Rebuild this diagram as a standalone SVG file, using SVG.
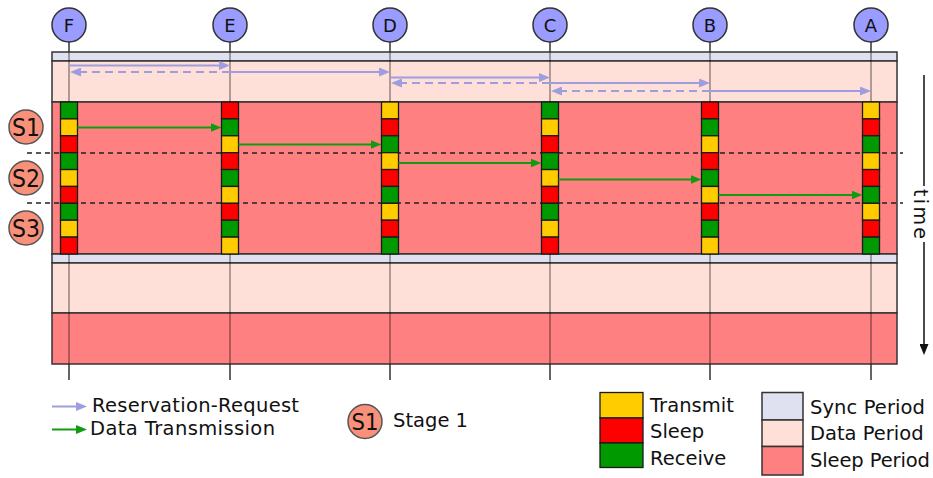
<svg xmlns="http://www.w3.org/2000/svg" width="933" height="478" viewBox="0 0 933 478">
<defs>
<style>
.sync{fill:#dfe0f0;stroke:#333;stroke-width:1.5}
.data{fill:#ffe0d8;stroke:#333;stroke-width:1.5}
.slp{fill:#ff8080;stroke:#333;stroke-width:1.5}
.life{stroke:#000;stroke-opacity:.42;stroke-width:1.5}
.lifeo{stroke:#333;stroke-width:1.5}
.nc{fill:#9b9cff;stroke:#333;stroke-width:1.5}
.sc{fill:#f9917a;stroke:#555;stroke-width:1.5}
.lbl{font-family:"DejaVu Sans",Verdana,sans-serif;fill:#111}
.T{fill:#ffcc00;stroke:#1a1a1a;stroke-width:1.3}
.S{fill:#ff0000;stroke:#1a1a1a;stroke-width:1.3}
.R{fill:#009900;stroke:#1a1a1a;stroke-width:1.3}
.rr{stroke:#9d9de0;stroke-width:2;fill:none;marker-end:url(#ma)}
.rrd{stroke:#9d9de0;stroke-width:2;fill:none;stroke-dasharray:8 5;marker-end:url(#ma)}
.dt{stroke:#139a13;stroke-width:2;fill:none;marker-end:url(#mg)}
.sep{stroke:#222;stroke-width:1.5;stroke-dasharray:5 4;fill:none}
</style>
<marker id="ma" markerUnits="userSpaceOnUse" markerWidth="11" markerHeight="9" refX="2" refY="4.5" orient="auto"><path d="M0,0 L11,4.5 L0,9 z" fill="#9d9de0"/></marker>
<marker id="mg" markerUnits="userSpaceOnUse" markerWidth="11" markerHeight="9" refX="2" refY="4.5" orient="auto"><path d="M0,0 L11,4.5 L0,9 z" fill="#139a13"/></marker>
<marker id="mt" markerUnits="userSpaceOnUse" markerWidth="11" markerHeight="9" refX="2" refY="4.5" orient="auto"><path d="M0,0 L11,4.5 L0,9 z" fill="#111"/></marker>
</defs>
<rect width="933" height="478" fill="#fff"/>

<g id="periods">
<rect class="sync" x="52" y="52" width="845" height="9"/>
<rect class="data" x="52" y="61" width="845" height="41"/>
<rect class="slp" x="52" y="102" width="845" height="152"/>
<rect class="sync" x="52" y="254" width="845" height="9"/>
<rect class="data" x="52" y="263" width="845" height="50"/>
<rect class="slp" x="52" y="313" width="845" height="51"/>
</g>

<g id="stage-separators">
<path class="sep" d="M27,153 H903 M27,203 H903"/>
</g>

<g id="node-F">
<path class="lifeo" d="M69,42 V52 M69,364 V380"/><path class="life" d="M69,52 V364"/>
<circle class="nc" cx="69" cy="25" r="17"/>
<text class="lbl" x="69" y="31.5" font-size="18" text-anchor="middle">F</text>
<g transform="translate(60.5,102)">
<rect class="R" y="0" width="17" height="16.89"/><rect class="T" y="16.89" width="17" height="16.89"/><rect class="S" y="33.78" width="17" height="16.89"/>
<rect class="R" y="50.67" width="17" height="16.89"/><rect class="T" y="67.56" width="17" height="16.89"/><rect class="S" y="84.44" width="17" height="16.89"/>
<rect class="R" y="101.33" width="17" height="16.89"/><rect class="T" y="118.22" width="17" height="16.89"/><rect class="S" y="135.11" width="17" height="16.89"/>
</g>
</g>

<g id="node-E">
<path class="lifeo" d="M230,42 V52 M230,364 V380"/><path class="life" d="M230,52 V364"/>
<circle class="nc" cx="230" cy="25" r="17"/>
<text class="lbl" x="230" y="31.5" font-size="18" text-anchor="middle">E</text>
<g transform="translate(221.5,102)">
<rect class="S" y="0" width="17" height="16.89"/><rect class="R" y="16.89" width="17" height="16.89"/><rect class="T" y="33.78" width="17" height="16.89"/>
<rect class="S" y="50.67" width="17" height="16.89"/><rect class="R" y="67.56" width="17" height="16.89"/><rect class="T" y="84.44" width="17" height="16.89"/>
<rect class="S" y="101.33" width="17" height="16.89"/><rect class="R" y="118.22" width="17" height="16.89"/><rect class="T" y="135.11" width="17" height="16.89"/>
</g>
</g>

<g id="node-D">
<path class="lifeo" d="M390,42 V52 M390,364 V380"/><path class="life" d="M390,52 V364"/>
<circle class="nc" cx="390" cy="25" r="17"/>
<text class="lbl" x="390" y="31.5" font-size="18" text-anchor="middle">D</text>
<g transform="translate(381.5,102)">
<rect class="T" y="0" width="17" height="16.89"/><rect class="S" y="16.89" width="17" height="16.89"/><rect class="R" y="33.78" width="17" height="16.89"/>
<rect class="T" y="50.67" width="17" height="16.89"/><rect class="S" y="67.56" width="17" height="16.89"/><rect class="R" y="84.44" width="17" height="16.89"/>
<rect class="T" y="101.33" width="17" height="16.89"/><rect class="S" y="118.22" width="17" height="16.89"/><rect class="R" y="135.11" width="17" height="16.89"/>
</g>
</g>

<g id="node-C">
<path class="lifeo" d="M550,42 V52 M550,364 V380"/><path class="life" d="M550,52 V364"/>
<circle class="nc" cx="550" cy="25" r="17"/>
<text class="lbl" x="550" y="31.5" font-size="18" text-anchor="middle">C</text>
<g transform="translate(541.5,102)">
<rect class="R" y="0" width="17" height="16.89"/><rect class="T" y="16.89" width="17" height="16.89"/><rect class="S" y="33.78" width="17" height="16.89"/>
<rect class="R" y="50.67" width="17" height="16.89"/><rect class="T" y="67.56" width="17" height="16.89"/><rect class="S" y="84.44" width="17" height="16.89"/>
<rect class="R" y="101.33" width="17" height="16.89"/><rect class="T" y="118.22" width="17" height="16.89"/><rect class="S" y="135.11" width="17" height="16.89"/>
</g>
</g>

<g id="node-B">
<path class="lifeo" d="M710,42 V52 M710,364 V380"/><path class="life" d="M710,52 V364"/>
<circle class="nc" cx="710" cy="25" r="17"/>
<text class="lbl" x="710" y="31.5" font-size="18" text-anchor="middle">B</text>
<g transform="translate(701.5,102)">
<rect class="S" y="0" width="17" height="16.89"/><rect class="R" y="16.89" width="17" height="16.89"/><rect class="T" y="33.78" width="17" height="16.89"/>
<rect class="S" y="50.67" width="17" height="16.89"/><rect class="R" y="67.56" width="17" height="16.89"/><rect class="T" y="84.44" width="17" height="16.89"/>
<rect class="S" y="101.33" width="17" height="16.89"/><rect class="R" y="118.22" width="17" height="16.89"/><rect class="T" y="135.11" width="17" height="16.89"/>
</g>
</g>

<g id="node-A">
<path class="lifeo" d="M871,42 V52 M871,364 V380"/><path class="life" d="M871,52 V364"/>
<circle class="nc" cx="871" cy="25" r="17"/>
<text class="lbl" x="871" y="31.5" font-size="18" text-anchor="middle">A</text>
<g transform="translate(862.5,102)">
<rect class="T" y="0" width="17" height="16.89"/><rect class="S" y="16.89" width="17" height="16.89"/><rect class="R" y="33.78" width="17" height="16.89"/>
<rect class="T" y="50.67" width="17" height="16.89"/><rect class="S" y="67.56" width="17" height="16.89"/><rect class="R" y="84.44" width="17" height="16.89"/>
<rect class="T" y="101.33" width="17" height="16.89"/><rect class="S" y="118.22" width="17" height="16.89"/><rect class="R" y="135.11" width="17" height="16.89"/>
</g>
</g>

<g id="connectors">
<path class="rr" d="M69,65.5 H221"/>
<path class="rrd" d="M230,72 H79"/>
<path class="rr" d="M230,72 H381"/>
<path class="rr" d="M390,77.5 H541"/>
<path class="rrd" d="M550,83 H400"/>
<path class="rr" d="M550,83 H701"/>
<path class="rrd" d="M710,91 H560"/>
<path class="rr" d="M710,91 H862"/>
<path class="dt" d="M77.5,127.5 H212.5"/>
<path class="dt" d="M238.5,144.5 H372.5"/>
<path class="dt" d="M398.5,163 H532.5"/>
<path class="dt" d="M558.5,179.5 H692.5"/>
<path class="dt" d="M718.5,195 H853.5"/>
</g>

<g id="stage-S1"><circle class="sc" cx="26" cy="127" r="17"/><text class="lbl" x="26" y="136" font-size="25" text-anchor="middle" textLength="28" lengthAdjust="spacingAndGlyphs">S1</text></g>
<g id="stage-S2"><circle class="sc" cx="26" cy="178" r="17"/><text class="lbl" x="26" y="187" font-size="25" text-anchor="middle" textLength="28" lengthAdjust="spacingAndGlyphs">S2</text></g>
<g id="stage-S3"><circle class="sc" cx="26" cy="228" r="17"/><text class="lbl" x="26" y="237" font-size="25" text-anchor="middle" textLength="28" lengthAdjust="spacingAndGlyphs">S3</text></g>

<g id="time-axis">
<path d="M924,75 V186" stroke="#111" stroke-width="1.5"/>
<path d="M924,242 V346" stroke="#111" stroke-width="1.5" marker-end="url(#mt)"/>
<text class="lbl" transform="translate(914,214) rotate(90)" font-size="19" text-anchor="middle" textLength="50">time</text>
</g>

<g id="legend">
<path class="rr" d="M52,406.5 H78"/>
<text class="lbl" x="92" y="412" font-size="19.5" textLength="207">Reservation-Request</text>
<path class="dt" d="M52,429.5 H78"/>
<text class="lbl" x="90" y="434.5" font-size="19.5" textLength="185">Data Transmission</text>
<circle class="sc" cx="365" cy="421.5" r="17"/>
<text class="lbl" x="365" y="429.5" font-size="23" text-anchor="middle" textLength="27" lengthAdjust="spacingAndGlyphs">S1</text>
<text class="lbl" x="393" y="427" font-size="19.5" textLength="75">Stage 1</text>
<rect class="T" x="600" y="392.5" width="43" height="25.5"/>
<rect class="S" x="600" y="418" width="43" height="25"/>
<rect class="R" x="600" y="443" width="43" height="24.5"/>
<text class="lbl" x="650" y="412" font-size="19.5" textLength="84">Transmit</text>
<text class="lbl" x="650" y="438" font-size="19.5">Sleep</text>
<text class="lbl" x="650" y="465" font-size="19.5">Receive</text>
<rect class="sync" x="762" y="392.5" width="41" height="27.5"/>
<rect class="data" x="762" y="420" width="41" height="26.5"/>
<rect class="slp" x="762" y="446.5" width="41" height="28.5"/>
<text class="lbl" x="810" y="414" font-size="19.5" textLength="115">Sync Period</text>
<text class="lbl" x="810" y="440" font-size="19.5">Data Period</text>
<text class="lbl" x="810" y="467" font-size="19.5" textLength="120">Sleep Period</text>
</g>
</svg>
